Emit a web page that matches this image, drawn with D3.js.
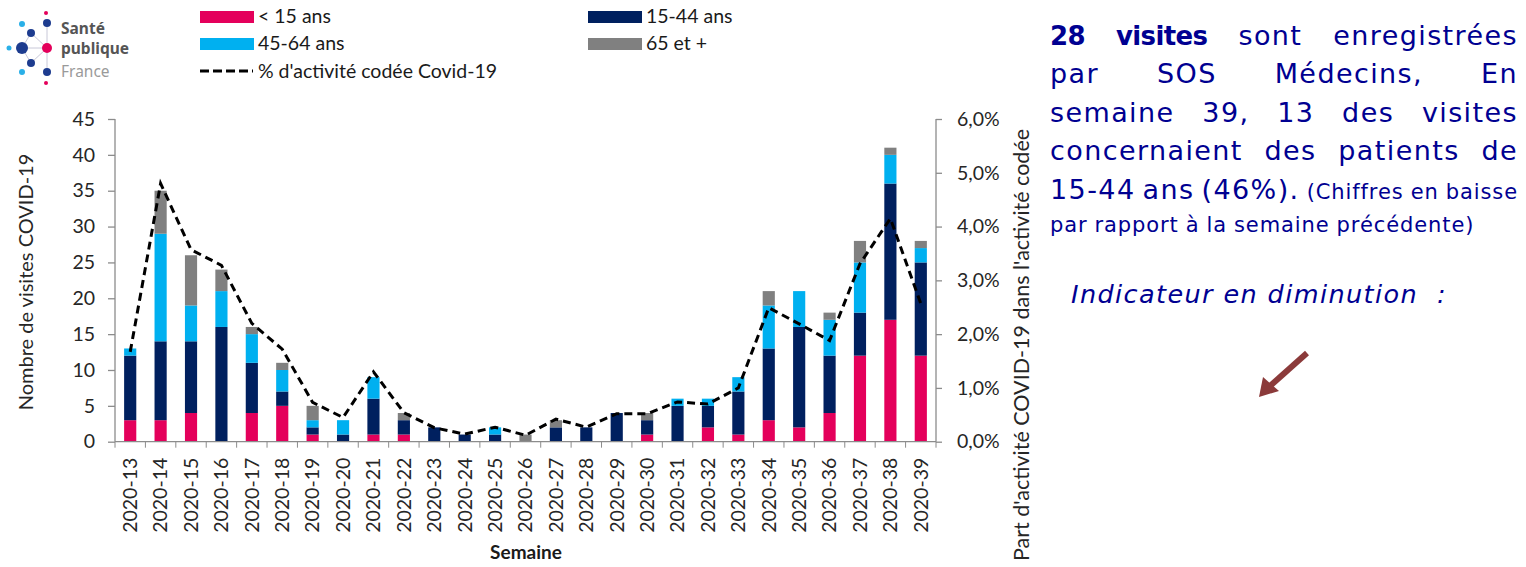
<!DOCTYPE html>
<html>
<head>
<meta charset="utf-8">
<script src="https://cdn.jsdelivr.net/npm/d3@7"></script>
<style>
  html, body { margin: 0; padding: 0; background: #fff; }
  svg { display: block; }
</style>
</head>
<body>
<svg id="chart" width="1526" height="567"></svg>
<script>
// ---------- DATA ----------
const weeks = ["2020-13","2020-14","2020-15","2020-16","2020-17","2020-18","2020-19","2020-20","2020-21","2020-22","2020-23","2020-24","2020-25","2020-26","2020-27","2020-28","2020-29","2020-30","2020-31","2020-32","2020-33","2020-34","2020-35","2020-36","2020-37","2020-38","2020-39"];
const ageLt15  = [3,3,4,0,4,5,1,0,1,1,0,0,0,0,0,0,0,1,0,2,1,3,2,4,12,17,12];
const age15_44 = [9,11,10,16,7,2,1,1,5,2,2,1,1,0,2,2,4,2,5,3,6,10,14,8,6,19,13];
const age45_64 = [1,15,5,5,4,3,1,2,3,0,0,0,1,0,0,0,0,0,1,1,2,6,5,5,7,4,2];
const age65    = [0,6,7,3,1,1,2,0,0,1,0,0,0,1,1,0,0,1,0,0,0,2,0,1,3,1,1];
const pctCovid = [1.67,4.80,3.57,3.28,2.20,1.72,0.73,0.45,1.30,0.54,0.26,0.14,0.27,0.12,0.42,0.27,0.52,0.52,0.74,0.70,1.00,2.49,2.19,1.88,3.31,4.15,2.57];
const leftTicks = [0,5,10,15,20,25,30,35,40,45];
const rightTicks = [0,1,2,3,4,5,6];
const seriesNames = ["< 15 ans","15-44 ans","45-64 ans","65 et +"];
const lineName = "% d'activité codée Covid-19";

const colors = {"< 15 ans":"#E4005B","15-44 ans":"#00205F","45-64 ans":"#00B0F0","65 et +":"#808080"};

// ---------- SETUP ----------
const svg = d3.select("#chart");
const chartFont = "Lato, 'Liberation Sans', sans-serif";
const plot = {left:115, right:936, top:119, bottom:441.7};

const x = d3.scaleBand().domain(weeks).range([plot.left, plot.right]).paddingInner(0.6).paddingOuter(0.3);
const y = d3.scaleLinear().domain([0,45]).range([plot.bottom, plot.top]);
const y2 = d3.scaleLinear().domain([0,6]).range([plot.bottom, plot.top]);

const rows = weeks.map((w,i)=>({week:w, "< 15 ans":ageLt15[i], "15-44 ans":age15_44[i], "45-64 ans":age45_64[i], "65 et +":age65[i]}));
const stack = d3.stack().keys(seriesNames)(rows);

// bars
svg.append("g").selectAll("g").data(stack).join("g")
  .attr("fill", d=>colors[d.key])
  .selectAll("rect").data(d=>d).join("rect")
  .attr("x", d=>x(d.data.week))
  .attr("width", x.bandwidth())
  .attr("y", d=>y(d[1]))
  .attr("height", d=>Math.max(0, y(d[0])-y(d[1])));

// line
const line = d3.line().x((d,i)=>x(weeks[i])+x.bandwidth()/2).y(d=>y2(d));
svg.append("path").datum(pctCovid).attr("d", line)
  .attr("fill","none").attr("stroke","#000").attr("stroke-width",3)
  .attr("stroke-dasharray","8,5");

// axes
const axisColor = "#8c8c8c";
const leftAxis = svg.append("g").attr("transform",`translate(${plot.left},0)`)
  .call(d3.axisLeft(y).tickValues(leftTicks).tickSize(6).tickPadding(14));
const rightAxis = svg.append("g").attr("transform",`translate(${plot.right},0)`)
  .call(d3.axisRight(y2).tickValues(rightTicks).tickSize(6).tickPadding(15)
    .tickFormat(d=>d3.format(".1f")(d).replace(".",",")+"%"));
const xTickPos = d3.range(weeks.length+1).map(i=>plot.left + i*(plot.right-plot.left)/weeks.length);
const bottomAxis = svg.append("g").attr("transform",`translate(0,${plot.bottom})`)
  .call(d3.axisBottom(x).tickSize(0).tickPadding(0));
bottomAxis.select(".domain").attr("d",`M${plot.left},0H${plot.right}`);
bottomAxis.selectAll(".xt").data(xTickPos).join("line").attr("class","xt")
  .attr("x1",d=>d).attr("x2",d=>d).attr("y1",0).attr("y2",6).attr("stroke",axisColor);

[leftAxis,rightAxis,bottomAxis].forEach(g=>{
  g.selectAll(".domain").attr("stroke",axisColor).attr("stroke-width",1.3);
  g.selectAll(".tick line").attr("stroke",axisColor).attr("stroke-width",1.3);
  g.selectAll("text").attr("font-family",chartFont).attr("font-size",19.5).attr("fill","#262626");
});
bottomAxis.selectAll(".tick text")
  .attr("transform","rotate(-90)")
  .attr("text-anchor","end")
  .attr("x",-16).attr("y",0).attr("dy","0.35em");
leftAxis.select(".domain").attr("d",`M0,${plot.top}H0V${plot.bottom}`);
leftAxis.selectAll(".tick line").attr("x2",-7);
rightAxis.select(".domain").attr("d",`M0,${plot.top}H0V${plot.bottom}`);
rightAxis.selectAll(".tick text").attr("text-anchor","start");

// axis titles
svg.append("text").attr("transform","translate(33,282) rotate(-90)")
  .attr("text-anchor","middle").attr("font-family",chartFont).attr("font-size",20).attr("fill","#262626")
  .text("Nombre de visites COVID-19");
svg.append("text").attr("transform","translate(1029,345) rotate(-90)")
  .attr("text-anchor","middle").attr("font-family",chartFont).attr("font-size",21.5).attr("fill","#262626")
  .text("Part d'activité COVID-19 dans l'activité codée");
svg.append("text").attr("x",526).attr("y",559)
  .attr("text-anchor","middle").attr("font-family",chartFont).attr("font-size",19).attr("font-weight","bold").attr("fill","#1a1a1a")
  .text("Semaine");

// legend
const legendItems = [
  {name:seriesNames[0], x:200, y:11},
  {name:seriesNames[2], x:200, y:38},
  {name:seriesNames[1], x:588, y:11},
  {name:seriesNames[3], x:588, y:38}
];
const lg = svg.append("g");
legendItems.forEach(it=>{
  lg.append("rect").attr("x",it.x).attr("y",it.y).attr("width",54).attr("height",12).attr("fill",colors[it.name]);
  lg.append("text").attr("x",it.x+58).attr("y",it.y+12).attr("font-family",chartFont).attr("font-size",19.5).attr("fill","#1a1a1a").text(it.name);
});
lg.append("line").attr("x1",200).attr("x2",253).attr("y1",71).attr("y2",71)
  .attr("stroke","#000").attr("stroke-width",3).attr("stroke-dasharray","9,4");
lg.append("text").attr("x",258).attr("y",78).attr("font-family",chartFont).attr("font-size",19.5).attr("fill","#1a1a1a").text(lineName);

// logo
const logo = svg.append("g");
const lgLines = [[22,48,47,48],[47,23,47,72],[31,33,47,48],[31,63,47,48],[22,48,31,33],[22,48,31,63]];
lgLines.forEach(l=>logo.append("line").attr("x1",l[0]).attr("y1",l[1]).attr("x2",l[2]).attr("y2",l[3]).attr("stroke","#c8c8d8").attr("stroke-width",1));
const dots = [[46,13,2,"#E4005B"],[47,23,4,"#1d3c8f"],[22,24,3,"#2ab0e8"],[31,33,4,"#1d3c8f"],[9,48,2.5,"#2ab0e8"],[22,48,6,"#1d3c8f"],[47,48,5,"#E4005B"],[31,63,4,"#1d3c8f"],[22,72,3,"#2ab0e8"],[47,72,4,"#1d3c8f"],[46,83,2,"#E4005B"]];
dots.forEach(d=>logo.append("circle").attr("cx",d[0]).attr("cy",d[1]).attr("r",d[2]).attr("fill",d[3]));
logo.append("text").attr("x",61).attr("y",34).attr("font-family","'Noto Sans', sans-serif").attr("font-weight","bold").attr("font-size",15.5).attr("fill","#555").text("Santé");
logo.append("text").attr("x",61).attr("y",54).attr("font-family","'Noto Sans', sans-serif").attr("font-weight","bold").attr("font-size",15.5).attr("fill","#555").text("publique");
logo.append("text").attr("x",61).attr("y",77).attr("font-family","'Noto Sans', sans-serif").attr("font-size",15.5).attr("fill","#9a9a9a").text("France");

// right text block (justified)
const navyText = "#000091";
const txtFont = "'DejaVu Sans', sans-serif";
const left = 1050, right = 1518;
const big = 27, small = 21;
const lines = [
  {y:45, words:[{t:"28",b:1,s:big},{t:"visites",b:1,s:big},{t:"sont",s:big},{t:"enregistrées",s:big}], justify:true},
  {y:83, words:[{t:"par",s:big},{t:"SOS",s:big},{t:"Médecins,",s:big},{t:"En",s:big}], justify:true},
  {y:122, words:[{t:"semaine",s:big},{t:"39,",s:big},{t:"13",s:big},{t:"des",s:big},{t:"visites",s:big}], justify:true},
  {y:160, words:[{t:"concernaient",s:big},{t:"des",s:big},{t:"patients",s:big},{t:"de",s:big}], justify:true},
  {y:199, words:[{t:"15-44",s:big},{t:"ans",s:big},{t:"(46%).",s:big},{t:"(Chiffres",s:small},{t:"en",s:small},{t:"baisse",s:small}], justify:true},
  {y:232, words:[{t:"par",s:small},{t:"rapport",s:small},{t:"à",s:small},{t:"la",s:small},{t:"semaine",s:small},{t:"précédente)",s:small}], justify:false}
];
const tg = svg.append("g");
lines.forEach(ln=>{
  const nodes = ln.words.map(w=>tg.append("text").attr("y",ln.y).attr("font-family",txtFont)
    .attr("font-size",w.b ? 26 : w.s).attr("font-weight",w.b?"bold":"normal")
    .attr("letter-spacing", w.b ? -0.6 : (w.s===big ? 1.4 : 0.9))
    .attr("fill",navyText).text(w.t));
  const widths = nodes.map(n=>n.node().getBBox().width);
  const total = d3.sum(widths);
  const gap = ln.justify ? (right-left-total)/(nodes.length-1) : 7;
  let cx = left;
  nodes.forEach((n,i)=>{ n.attr("x",cx); cx += widths[i]+gap; });
});
svg.append("text").attr("x",1071).attr("y",303).attr("font-family",txtFont).attr("font-style","italic")
  .attr("font-size",25.5).attr("letter-spacing",1.4).attr("fill",navyText).text("Indicateur en diminution\u00A0\u00A0:");

// arrow
const arrow = svg.append("g");
arrow.append("line").attr("x1",1307).attr("y1",353).attr("x2",1270).attr("y2",386)
  .attr("stroke","#8B3A3A").attr("stroke-width",6);
arrow.append("path").attr("d","M1259,397 L1263,377 L1279,391 Z").attr("fill","#8B3A3A");
</script>
</body>
</html>
